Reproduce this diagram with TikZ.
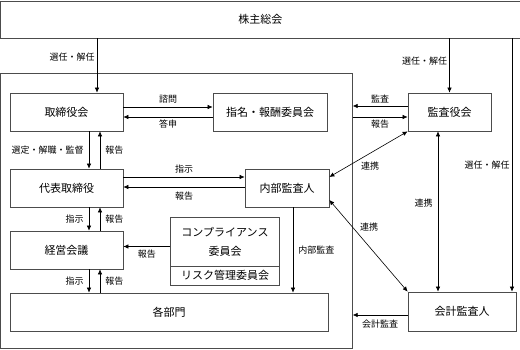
\documentclass[tikz,border=0pt]{standalone}
\usepackage{fontspec}
\setmainfont{Noto Sans CJK JP}
\usetikzlibrary{positioning,arrows.meta,calc}
\tikzset{
  box/.style={draw=black!70,line width=0.7pt,align=center,inner sep=0pt,minimum height=38pt,font=\fontsize{11}{13}\selectfont},
  lbl/.style={font=\fontsize{9}{10}\selectfont,inner sep=2pt},
  arr/.style={-{Latex[length=5pt,width=4.5pt]},line width=0.6pt},
  darr/.style={{Latex[length=5pt,width=4.5pt]}-{Latex[length=5pt,width=4.5pt]},line width=0.6pt},
}

\begin{document}
\begin{tikzpicture}[x=1pt,y=-1pt]
  \useasboundingbox (0,0) rectangle (520,349);
  % frames
  \node[box,minimum width=519pt,minimum height=37pt,anchor=north west] (soukai) at (0.5,0.5) {株主総会};
  \node[box,minimum width=351.5pt,minimum height=275pt,anchor=north west] (org) at (0.5,73) {};
  % boxes
  \node[box,minimum width=113pt] (torishimari) at (66.5,112) {取締役会};
  \node[box,minimum width=114pt] (shimei) at (270,112) {指名・報酬委員会};
  \node[box,minimum width=83pt] (kansa) at (449.5,112) {監査役会};
  \node[box,minimum width=113pt] (daihyo) at (66.5,188) {代表取締役};
  \node[box,minimum width=84pt] (naibu) at (287,188) {内部監査人};
  \node[box,minimum width=113pt] (keiei) at (66.5,250) {経営会議};
  \node[box,minimum width=109pt,minimum height=49pt,font=\fontsize{11}{19}\selectfont] (comp) at (225,241.5) {コンプライアンス\\委員会};
  \node[box,minimum width=109pt,minimum height=19pt] (risk) at (225,275.5) {リスク管理委員会};
  \node[box,minimum width=318pt] (busho) at (169,312) {各部門};
  \node[box,minimum width=108pt,minimum height=39pt] (kaikei) at (462,311.5) {会計監査人};
  % helper points
  \coordinate (xdn) at (89,0);
  \coordinate (xup) at (100,0);
  \coordinate (xsh) at (97,0);
  \coordinate (xka) at (512,0);
  \coordinate (xna) at (293,0);
  \coordinate (xre) at (438,0);
  \coordinate (k1) at ([yshift=6pt]kansa.west);
  \coordinate (k2) at ([yshift=-5pt]kansa.west);
  \coordinate (c1) at ([yshift=-5pt]comp.west);
  \coordinate (c2) at ([yshift=-3.5pt]kaikei.west);
  % shareholders
  \draw[arr] (soukai.south -| xsh) -- node[lbl,left,pos=0.35]{選任・解任} (torishimari.north -| xsh);
  \draw[arr] (soukai.south -| kansa) -- node[lbl,left,pos=0.42]{選任・解任} (kansa.north);
  \draw[arr] (soukai.south -| xka) -- node[lbl,left]{選任・解任} (kaikei.north -| xka);
  % board
  \draw[arr] ([yshift=5pt]torishimari.east) -- node[lbl,above=1pt]{諮問} ([yshift=5pt]shimei.west);
  \draw[arr] ([yshift=-5pt]shimei.west) -- node[lbl,below=1pt]{答申} ([yshift=-5pt]torishimari.east);
  \draw[arr] (k1) -- node[lbl,above=1pt]{監査} (k1 -| org.east);
  \draw[arr] (k2 -| org.east) -- node[lbl,below=1pt]{報告} (k2);
  \draw[arr] (torishimari.south -| xdn) -- node[lbl,left=3pt]{選定・解職・監督} (daihyo.north -| xdn);
  \draw[arr] (daihyo.north -| xup) -- node[lbl,right=3pt]{報告} (torishimari.south -| xup);
  % execution
  \draw[arr] ([yshift=11pt]daihyo.east) -- node[lbl,above=1pt]{指示} ([yshift=11pt]naibu.west);
  \draw[arr] ([yshift=1pt]naibu.west) -- node[lbl,below=3pt]{報告} ([yshift=1pt]daihyo.east);
  \draw[arr] (daihyo.south -| xdn) -- node[lbl,left=3pt]{指示} (keiei.north -| xdn);
  \draw[arr] (keiei.north -| xup) -- node[lbl,right=3pt]{報告} (daihyo.south -| xup);
  \draw[arr] (keiei.south -| xdn) -- node[lbl,left=3pt]{指示} (busho.north -| xdn);
  \draw[arr] (busho.north -| xup) -- node[lbl,right=3pt]{報告} (keiei.south -| xup);
  \draw[arr] (c1) -- node[lbl,below=1pt]{報告} (c1 -| keiei.east);
  \draw[arr] (naibu.south -| xna) -- node[lbl,right=3pt]{内部監査} (busho.north -| xna);
  % audit
  \draw[arr] (c2) -- node[lbl,below=3pt]{会計監査} (c2 -| org.east);
  \draw[darr] (kansa.south -| xre) -- node[lbl,left=3pt,pos=0.45]{連携} (kaikei.north -| xre);
  \draw[darr] ([yshift=11pt]naibu.east) -- node[lbl,pos=0.52,below=6pt]{連携} (kansa.south west);
  \draw[darr] ([yshift=-12pt]naibu.east) -- node[lbl,pos=0.3,right=5pt]{連携} (kaikei.north west);
\end{tikzpicture}
\end{document}
